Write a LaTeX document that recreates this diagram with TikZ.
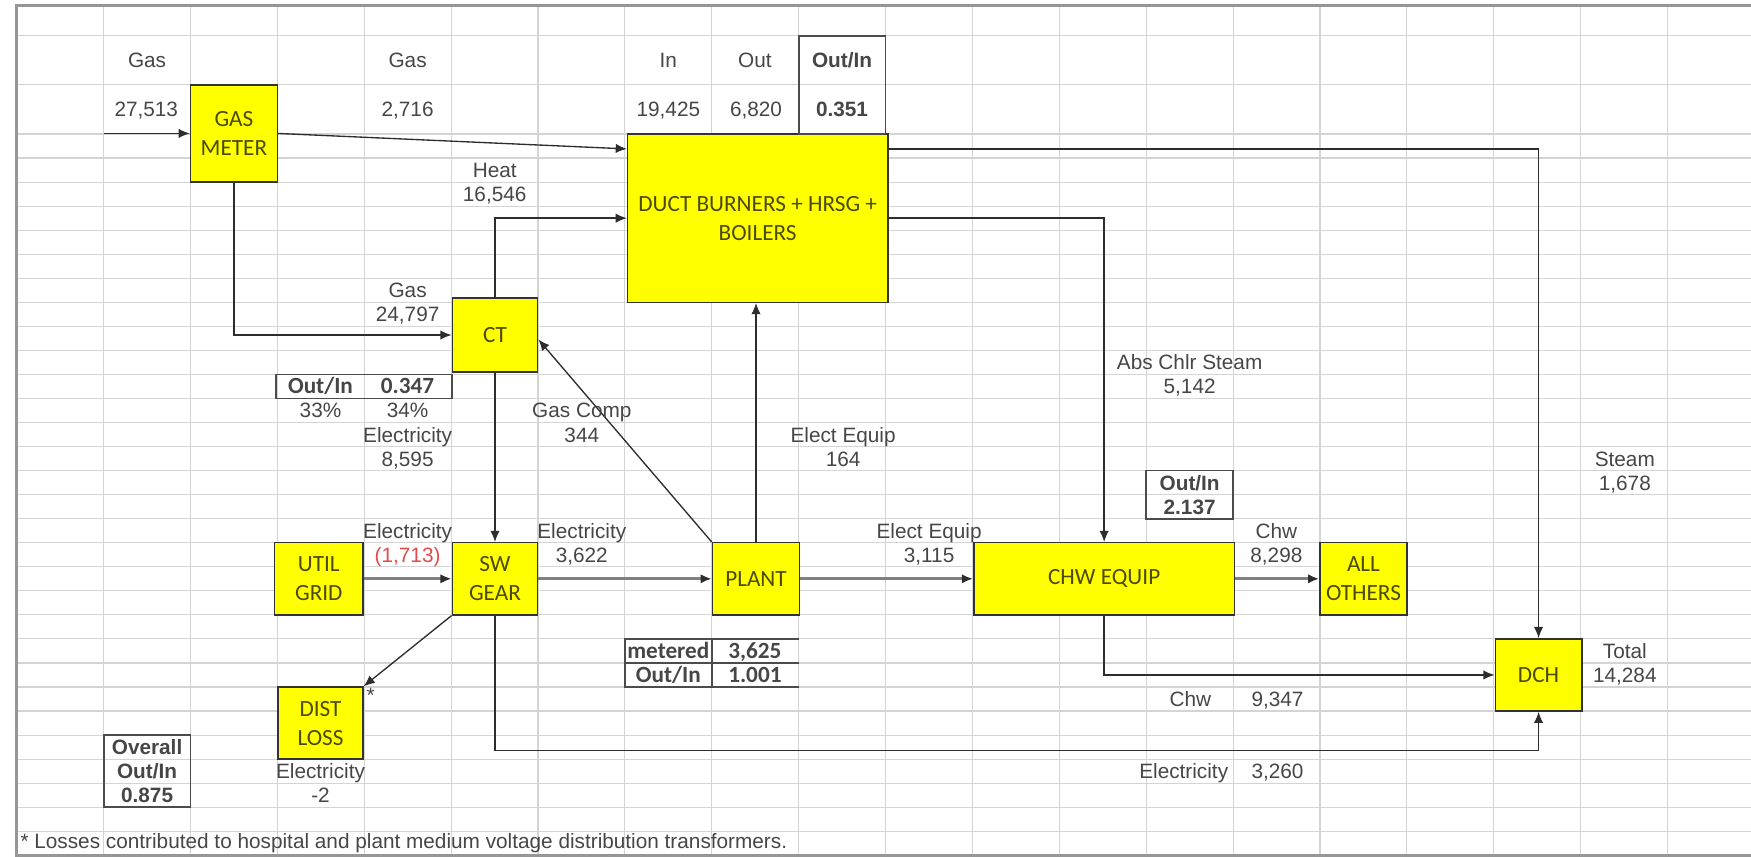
\documentclass[tikz,border=0pt]{standalone}
\usepackage{fontspec}
\setmainfont{Liberation Sans}
\newfontfamily\boxfont{Carlito}
\usetikzlibrary{arrows.meta,calc}
\definecolor{boxyellow}{RGB}{255,255,0}
\definecolor{boxtextc}{RGB}{75,75,0}
\definecolor{lblc}{RGB}{70,70,70}
\definecolor{gridc}{RGB}{212,212,212}
\definecolor{wirec}{RGB}{45,45,45}
\definecolor{redc}{RGB}{225,75,75}
\definecolor{framec}{RGB}{150,150,150}
\tikzset{
  yb/.style={draw=black!80, line width=0.65pt, fill=boxyellow, text=boxtextc, align=center, inner sep=0pt, font=\boxfont\fontsize{10.4}{13}\selectfont},
  lbl/.style={text=lblc, inner sep=0pt, text height=6.7pt, text depth=0pt, font=\fontsize{9.3}{11}\selectfont},
  blbl/.style={lbl, font=\bfseries\fontsize{9.3}{11}\selectfont},
  cbl/.style={lbl, font=\boxfont\bfseries\fontsize{10.4}{12}\selectfont},
  wire/.style={draw=wirec, line width=0.6pt, -{Latex[length=5pt,width=4.2pt,color=wirec]}},
  fatwire/.style={wire, draw=black!50, line width=1.2pt},
  tbl/.style={draw=black!70, line width=0.8pt},
  gridline/.style={draw=gridc, line width=0.5pt},
}
\begin{document}
\begin{tikzpicture}[x=0.5pt,y=-0.5pt]
\useasboundingbox (0,0) rectangle (1568,767);
% spreadsheet grid
\foreach \k in {1,...,19} \draw[gridline] ({15+77.8*\k},5) -- ({15+77.8*\k},766);
\foreach \y in {32,76,120} \draw[gridline] (15,\y) -- (1568,\y);
\foreach \k in {1,...,29} \draw[gridline] (15,{120+21.53*\k}) -- (1568,{120+21.53*\k});
% frame
\draw[framec, line width=1.5pt] (1568,5) -- (15,5) -- (15,766) -- (1568,766);

% boxes
\node[yb, minimum width=38.9pt, minimum height=43.5pt] (gm) at (209.5,119.5) {GAS\\METER};
\node[yb, minimum width=116.5pt, minimum height=75.35pt] (duct) at (678.5,195.35) {DUCT BURNERS + HRSG +\\BOILERS};
\node[yb, minimum width=38.25pt, minimum height=33pt] (ct) at (443.25,300) {CT};
\node[yb, minimum width=38.25pt, minimum height=32.3pt] (sw) at (443.25,518.3) {SW\\GEAR};
\node[yb, minimum width=39.5pt, minimum height=32.3pt] (util) at (285.5,518.3) {UTIL\\GRID};
\node[yb, minimum width=39pt, minimum height=32.3pt] (plant) at (677,518.3) {PLANT};
\node[yb, minimum width=116.75pt, minimum height=32.3pt] (chw) at (988.75,518.3) {CHW EQUIP};
\node[yb, minimum width=39pt, minimum height=32.3pt] (others) at (1221,518.3) {ALL\\OTHERS};
\node[yb, minimum width=38.75pt, minimum height=32.3pt] (dch) at (1377.75,604.4) {DCH};
\node[yb, minimum width=38pt, minimum height=32.3pt] (dl) at (287,647.5) {DIST\\LOSS};

% tables
\draw[tbl] (715.2,32) rectangle (793,120);
\draw[tbl] (247,335.3) rectangle (405,356.8);
\draw[tbl] (1026.4,421.4) rectangle (1104.2,464.5);
\draw[tbl] (92.8,658.3) rectangle (170.6,722.8);
\draw[tbl] (715.2,572.1) -- (559.6,572.1) -- (559.6,615.2) -- (715.2,615.2);
\draw[tbl] (559.6,593.7) -- (715.2,593.7);
\draw[tbl] (637.4,572.1) -- (637.4,615.2);

% connectors
\coordinate (gasin) at (92.8,119.5);
\coordinate (swlow) at (700,672);
\draw[wire] (gasin) -- (gm.west);
\draw[wire] (gm.east) -- ($(duct.north west)+(0,14)$);
\draw[wire] (gm.south) |- (ct.west);
\draw[wire] (ct.north) |- (duct.west);
\draw[wire] (ct.south) -- (sw.north);
\draw[fatwire] (util.east) -- (sw.west);
\draw[fatwire] (sw.east) -- (plant.west);
\draw[wire] (plant.north west) -- ($(ct.east)+(0,4)$);
\draw[wire] (plant.north) -- (plant.north |- duct.south);
\draw[fatwire] (plant.east) -- (chw.west);
\draw[wire] (duct.east) -| (chw.north);
\draw[wire] ($(duct.north east)+(0,14)$) -| (dch.north);
\draw[fatwire] (chw.east) -- (others.west);
\draw[wire] (chw.south) |- (dch.west);
\draw[wire] (sw.south) |- (swlow) -| (dch.south);
\draw[wire] (sw.south west) -- (dl.north east);

% labels
\node[lbl] (lg1) at (131.7,54) {Gas};
\node[lbl] (lg2) at (131,98) {27,513};
\node[lbl] (lg3) at (365,54) {Gas};
\node[lbl] (lg4) at (365,98) {2,716};
\node[lbl] (lin) at (598.5,54) {In};
\node[lbl] (lin2) at (598.5,98) {19,425};
\node[lbl] (lout) at (676,54) {Out};
\node[lbl] (lout2) at (677,98) {6,820};
\node[blbl] (loi) at (754,54) {Out/In};
\node[blbl] (loi2) at (754,98) {0.351};
\node[lbl] (lheat) at (443,152.3) {Heat};
\node[lbl] (lheat2) at (443,173.8) {16,546};
\node[lbl] (lgas) at (365,260) {Gas};
\node[lbl] (lgas2) at (365,281.5) {24,797};
\node[cbl] (ctoi) at (287,346) {Out/In};
\node[cbl] (ctoi2) at (365,346) {0.347};
\node[lbl] (p33) at (287,367.6) {33\%};
\node[lbl] (p34) at (365,367.6) {34\%};
\node[lbl] (le1) at (365,389.1) {Electricity};
\node[lbl] (le2) at (365,410.7) {8,595};
\node[lbl] (lgc) at (521,367.6) {Gas Comp};
\node[lbl] (lgc2) at (521,389.1) {344};
\node[lbl] (lee) at (755,389.1) {Elect Equip};
\node[lbl] (lee2) at (755,410.7) {164};
\node[lbl] (labs) at (1065.3,324.5) {Abs Chlr Steam};
\node[lbl] (labs2) at (1065.3,346.1) {5,142};
\node[lbl] (lsteam) at (1455,410.7) {Steam};
\node[lbl] (lsteam2) at (1455,432.2) {1,678};
\node[blbl] (choi) at (1065.3,432.2) {Out/In};
\node[blbl] (choi2) at (1065.3,453.7) {2.137};
\node[lbl] (lel1) at (365,475.2) {Electricity};
\node[lbl, text=redc] (lel2) at (365,496.8) {(1,713)};
\node[lbl] (lel3) at (521,475.2) {Electricity};
\node[lbl] (lel4) at (521,496.8) {3,622};
\node[lbl] (lee3) at (832,475.2) {Elect Equip};
\node[lbl] (lee4) at (832,496.8) {3,115};
\node[lbl] (lchw) at (1143,475.2) {Chw};
\node[lbl] (lchw2) at (1143,496.8) {8,298};
\node[cbl] (mt1) at (598.5,582.9) {metered};
\node[cbl] (mt2) at (676,582.9) {3,625};
\node[cbl] (mt3) at (598.5,604.4) {Out/In};
\node[cbl] (mt4) at (676,604.4) {1.001};
\node[lbl] (ltot) at (1455,582.9) {Total};
\node[lbl] (ltot2) at (1455,604.4) {14,284};
\node[lbl] (lchw3) at (1066,626) {Chw};
\node[lbl] (lchw4) at (1144,626) {9,347};
\node[lbl] (ast) at (332,622) {*};
\node[blbl] (ov1) at (131.7,669) {Overall};
\node[blbl] (ov2) at (131.7,690.5) {Out/In};
\node[blbl] (ov3) at (131.7,712) {0.875};
\node[lbl] (ld1) at (287,690.5) {Electricity};
\node[lbl] (ld2) at (287,712) {-2};
\node[lbl] (le5) at (1060,690.5) {Electricity};
\node[lbl] (le6) at (1144,690.5) {3,260};
\node[lbl, anchor=base west] (foot) at (18,760) {* Losses contributed to hospital and plant medium voltage distribution transformers.};
\end{tikzpicture}
\end{document}
